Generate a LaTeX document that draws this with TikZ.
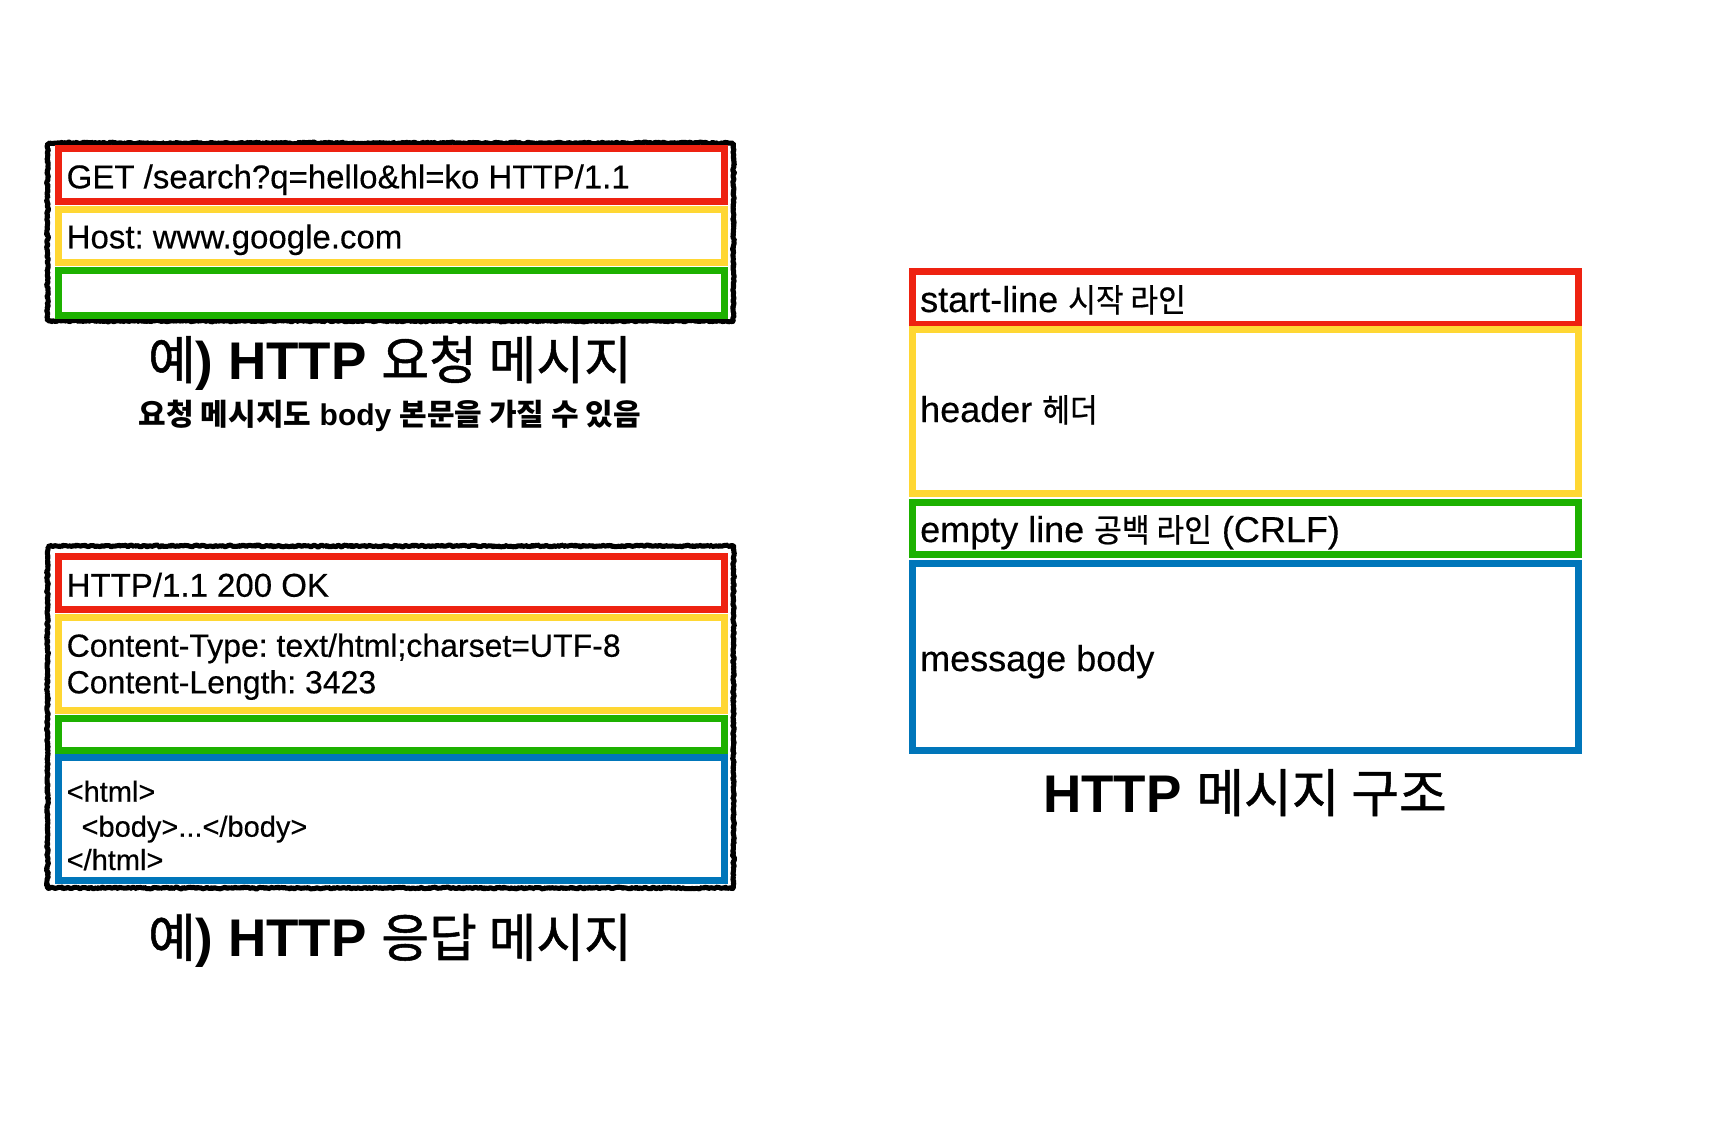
\documentclass[tikz,border=0pt]{standalone}
\usepackage{fontspec}
\setmainfont{Liberation Sans}[UprightFeatures={FakeBold=0.35}]
\newfontfamily\kofont[Scale=0.9,FakeStretch=0.93,FakeBold=0.6]{Noto Sans CJK KR}
\newfontfamily\kotfont[Scale=0.98,FakeBold=1]{Noto Sans CJK KR}
\newfontfamily\kosfont[Scale=1.0]{Noto Sans CJK KR}
\newcommand\ko[1]{{\kofont #1}}
\newcommand\kot[1]{{\kotfont\mdseries #1}}
\newcommand\kos[1]{{\kosfont\bfseries #1}}
\usetikzlibrary{decorations.pathmorphing}
\definecolor{kred}{RGB}{238,34,17}
\definecolor{kyellow}{RGB}{255,215,51}
\definecolor{kgreen}{RGB}{29,177,0}
\definecolor{kblue}{RGB}{0,118,186}
\frenchspacing
\begin{document}
\begin{tikzpicture}[x=1pt,y=-1pt,
  cbox/.style={line width=7pt},
  sketchA/.style={draw=black,line width=5pt,line join=bevel,decorate,decoration={random steps,segment length=1.6pt,amplitude=0.9pt}},
  sketchB/.style={draw=black,line width=2pt,line join=bevel,decorate,decoration={random steps,segment length=1.2pt,amplitude=1.8pt}},
  txt/.style={anchor=base west,inner sep=0pt,font=\fontsize{33}{36}\selectfont},
  txtsm/.style={anchor=base west,inner sep=0pt,font=\fontsize{32}{36}\selectfont},
  code/.style={anchor=base west,inner sep=0pt,font=\fontsize{29}{32}\selectfont},
  rtxt/.style={anchor=base west,inner sep=0pt,font=\fontsize{36}{40}\selectfont},
  title/.style={anchor=base,inner sep=0pt,font=\fontsize{53}{58}\selectfont\bfseries},
  subtitle/.style={anchor=base,inner sep=0pt,font=\fontsize{30}{34}\selectfont\bfseries}
]
\useasboundingbox[fill=white] (0,0) rectangle (1726,1143);
\pgfmathsetseed{7}
% request
\draw[sketchA] (47.5,143) rectangle (733.5,321);
\draw[sketchB] (47.5,143) rectangle (733.5,321);
\draw[cbox,kred] (58.3,148.3) rectangle (724,201.5);
\draw[cbox,kyellow] (58.3,209.3) rectangle (724,262.5);
\draw[cbox,kgreen] (58.3,270) rectangle (724,315);
\node[txt] (reqline) at (66.5,188.3) {GET /search?q=hello\&hl=ko HTTP/1.1};
\node[txt] (reqhost) at (66.5,248.3) {Host: www.google.com};
\node[title] (reqtitle) at (390,379) {\kot{예}) HTTP \kot{요청 메시지}};
\node[subtitle] (reqsub) at (390,425) {\kos{요청 메시지도} body \kos{본문을 가질 수 있음}};
% response
\draw[sketchA] (47.5,546) rectangle (733.5,888);
\draw[sketchB] (47.5,546) rectangle (733.5,888);
\draw[cbox,kred] (58.3,556) rectangle (724,609.3);
\draw[cbox,kyellow] (58.3,617.3) rectangle (724,710);
\draw[cbox,kgreen] (58.3,718.7) rectangle (724,750);
\draw[cbox,kblue] (58.3,757.7) rectangle (724,880);
\node[txt] (resline) at (66.5,596.7) {HTTP/1.1 200 OK};
\node[txtsm] (resct) at (66.5,656.7) {Content-Type: text/html;charset=UTF-8};
\node[txtsm] (rescl) at (66.5,693.3) {Content-Length: 3423};
\node[code] (reshtml) at (66.5,801.7) {<html>};
\node[code] (resbody) at (81.4,836.7) {<body>...</body>};
\node[code] (reshtmlend) at (66.5,870) {</html>};
\node[title] (restitle) at (390,956.7) {\kot{예}) HTTP \kot{응답 메시지}};
% structure
\draw[cbox,kred] (912.5,271) rectangle (1578,324.5);
\draw[cbox,kyellow] (912.5,329) rectangle (1578,493.6);
\draw[cbox,kgreen] (912.5,502) rectangle (1578,554.7);
\draw[cbox,kblue] (912.5,563.5) rectangle (1578,750);
\node[rtxt] (sstart) at (920,312) {start-line \ko{시작 라인}};
\node[rtxt] (sheader) at (920,422) {header \ko{헤더}};
\node[rtxt] (sempty) at (920,542) {empty line \ko{공백 라인} (CRLF)};
\node[rtxt] (sbody) at (920,671) {message body};
\node[title] (stitle) at (1245,812) {HTTP \kot{메시지 구조}};
\end{tikzpicture}
\end{document}
